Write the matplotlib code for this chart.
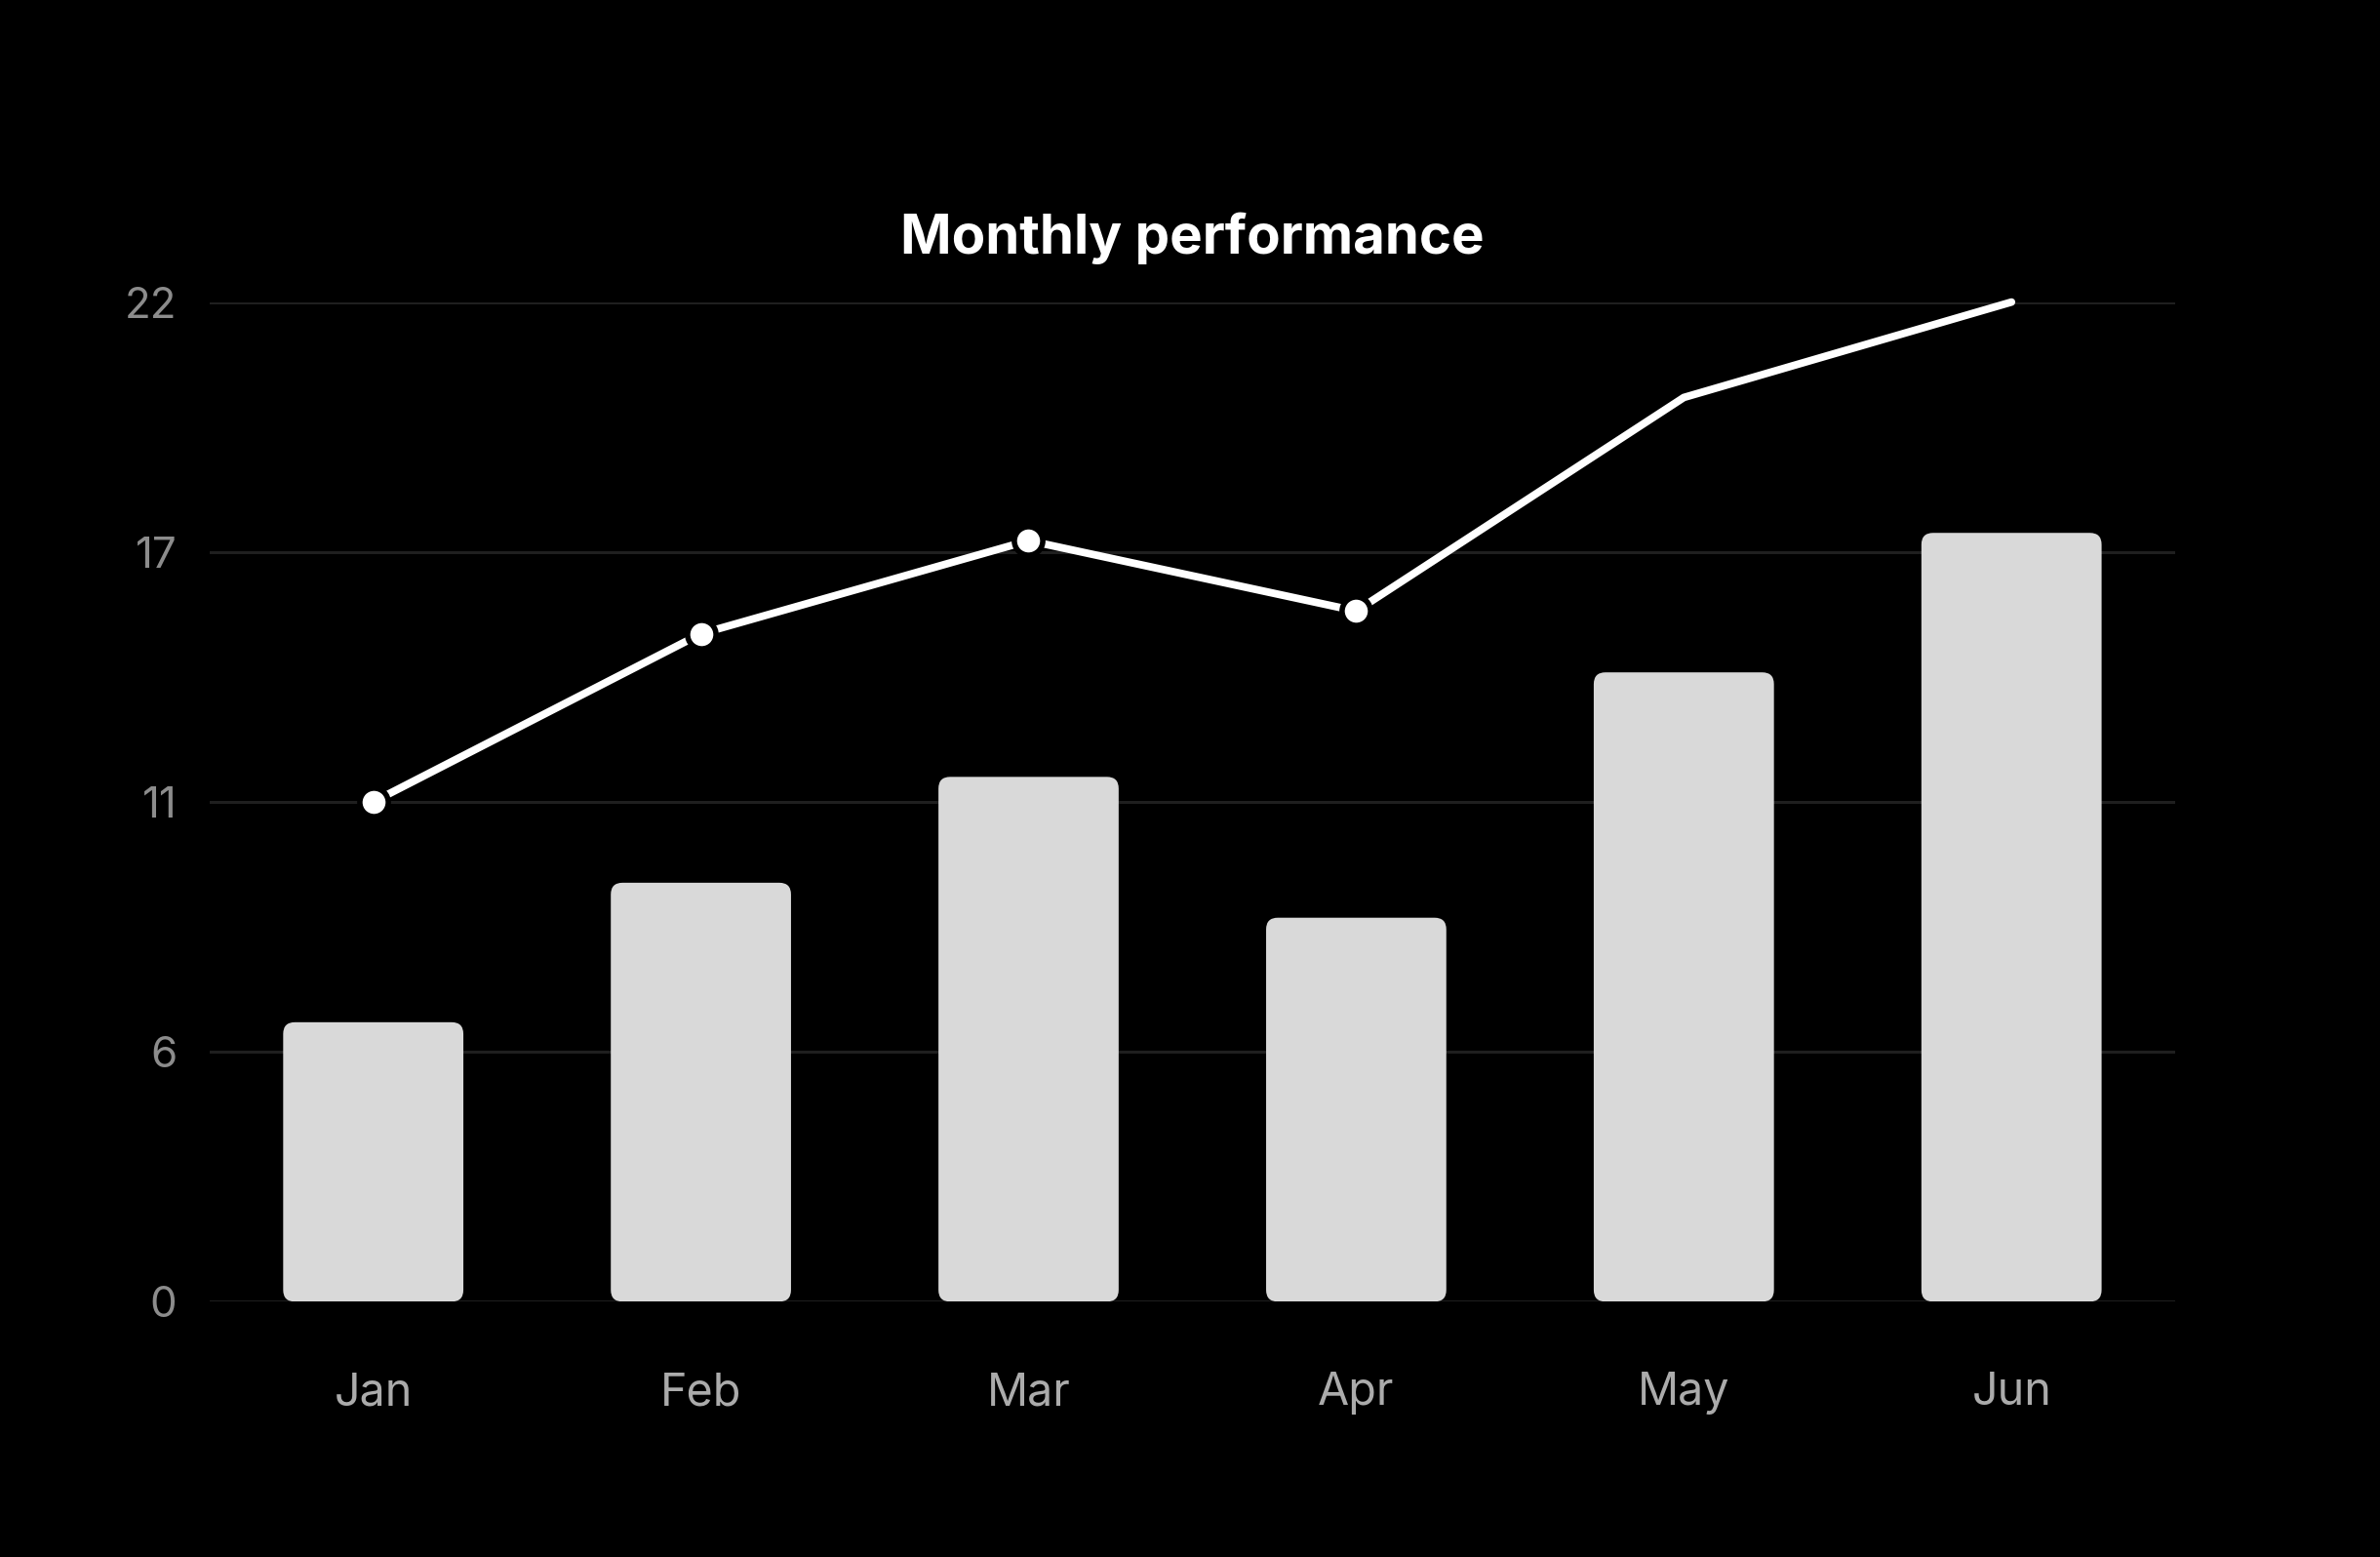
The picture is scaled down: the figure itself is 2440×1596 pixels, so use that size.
import matplotlib
matplotlib.use("Agg")
import matplotlib.pyplot as plt
from matplotlib.patches import FancyBboxPatch
import numpy as np

months = ["Jan", "Feb", "Mar", "Apr", "May", "Jun"]
bar_values = [6.15, 9.22, 11.55, 8.45, 13.85, 16.92]
line_values = [11.0, 14.7, 16.75, 15.2, 19.9, 22.0]
marker_count = 4
y_ticks = [0, 5.5, 11, 16.5, 22]
y_tick_labels = ["0", "6", "11", "17", "22"]

plt.rcParams['font.family'] = ['Inter', 'DejaVu Sans']

fig = plt.figure(figsize=(12.2, 7.98), dpi=200, facecolor="black")
ax = fig.add_axes([0.088, 0.164, 0.826, 0.642], facecolor="black")

x = np.arange(len(months))
ax.set_xlim(-0.5, len(months) - 0.5)
ax.set_ylim(0, 22)

bars = ax.bar(x, bar_values, width=0.55, color="#d9d9d9", zorder=2)

fig.canvas.draw()
p0 = ax.transData.transform((0, 0))
p1 = ax.transData.transform((1, 1))
ux = 1.0 / (p1[0] - p0[0])
uy = 1.0 / (p1[1] - p0[1])
r_px = 12
for b in bars:
    bx, by = b.get_x(), b.get_y()
    w, h = b.get_width(), b.get_height()
    fb = FancyBboxPatch((bx, by), w, h,
                        boxstyle=f"round,pad=0,rounding_size={r_px*ux}",
                        mutation_aspect=uy / ux,
                        facecolor="#d9d9d9", edgecolor="none", zorder=2)
    ax.add_patch(fb)
    b.remove()

ax.plot(x, line_values, color="white", lw=2.8, zorder=3, clip_on=False,
        solid_capstyle="round", solid_joinstyle="miter")
ax.plot(x[:marker_count], line_values[:marker_count], linestyle="none",
        marker="o", markersize=10.5, markerfacecolor="white",
        markeredgecolor="black", markeredgewidth=2.0, zorder=4, clip_on=False)

ax.set_yticks(y_ticks)
ax.set_yticklabels(y_tick_labels)
ax.set_xticks(x)
ax.set_xticklabels(months)
ax.grid(axis="y", color="#1f1f1f", lw=1.1, zorder=0)
ax.set_axisbelow(True)
for s in ax.spines.values():
    s.set_visible(False)
ax.tick_params(axis="both", length=0)
ax.tick_params(axis="y", colors="#8c8c8c", labelsize=15.8, pad=12)
ax.tick_params(axis="x", colors="#ababab", labelsize=16.8, pad=26)

fig.text(0.501, 0.847, "Monthly performance", color="white", fontsize=20.3,
         fontweight="bold", ha="center", va="center")

fig.savefig("out.png", dpi=200, facecolor="black")
